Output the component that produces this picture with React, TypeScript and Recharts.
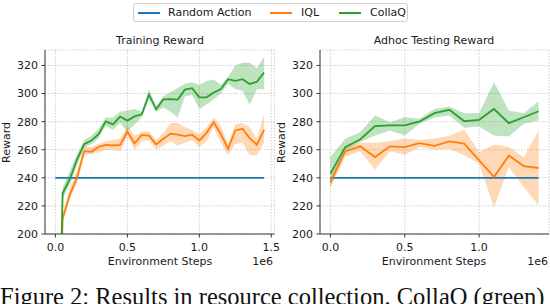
import React from 'react';
import { ComposedChart, Line, Area, XAxis, YAxis, CartesianGrid } from 'recharts';

const seriesNames = ['Random Action', 'IQL', 'CollaQ'];
const seriesColors = ['#1f77b4', '#ff7f0e', '#2ca02c'];
const randomReward = 240;
const rewardTicks = [200, 220, 240, 260, 280, 300, 320];
const trainStepTicks = [0, 0.5, 1.0, 1.5];
const adhocStepTicks = [0, 0.5, 1.0];

// Training Reward (steps in 1e6)
const trainSteps = [0, 0.05, 0.1, 0.15, 0.2, 0.25, 0.3, 0.35, 0.4, 0.45, 0.5, 0.55, 0.6, 0.65, 0.7, 0.75, 0.8, 0.85, 0.9, 0.95, 1.0, 1.05, 1.1, 1.15, 1.2, 1.25, 1.3, 1.35, 1.4, 1.45];
const trainIql = [0, 211, 228, 240, 259, 258.5, 262, 263.5, 263, 263.5, 273, 264.5, 270.5, 270, 263.8, 267.8, 271.4, 270.7, 269.7, 270.7, 266.6, 272, 279.6, 271, 260.7, 273.7, 274.9, 268.3, 263.6, 274.2];
const trainIqlLow = [0, 208, 225, 236, 256, 257, 258, 260, 260, 259, 270, 260, 266, 267, 260, 263, 266, 263, 265, 267, 262, 266, 276, 265, 256, 264, 265, 256, 256, 265];
const trainIqlHigh = [0, 214, 233, 245, 262, 262, 264, 266, 267, 268, 277, 270, 273, 273, 267, 272, 279, 279, 276, 274, 271, 276, 283, 277, 264, 278, 279, 276, 268, 285];
const trainCollaq = [0, 229, 239, 253, 264, 266.5, 271, 280.2, 278, 283.6, 280.7, 283.7, 285.2, 299.2, 288.8, 295.8, 296, 295.7, 302.8, 303.8, 297.3, 297.3, 300.8, 303.2, 310.2, 309, 310.2, 306.8, 308.4, 315];
const trainCollaqLow = [0, 225, 235, 249, 261, 264, 268, 277, 274, 279, 273, 278, 283, 296, 287, 290, 287, 283, 298, 299, 289, 292, 296, 300, 307, 303, 302, 292, 303, 303];
const trainCollaqHigh = [0, 233, 245, 257, 267, 270, 275, 283, 283, 287, 288, 289, 287, 303, 291, 298, 301, 304, 307, 308, 306, 309, 310, 306, 312, 320, 322, 322, 318, 326];

// Adhoc Testing Reward
const adhocSteps = [0, 0.1, 0.2, 0.3, 0.4, 0.5, 0.6, 0.7, 0.8, 0.9, 1.0, 1.1, 1.2, 1.3, 1.4];
const adhocIql = [237, 258.8, 262.4, 254.8, 262.4, 261.9, 264.7, 262.7, 265.9, 264.3, 252.4, 240.6, 255.8, 248.4, 247];
const adhocIqlLow = [233, 255, 259, 246, 259, 256.5, 262, 260, 260.5, 256, 250, 219, 247.7, 233.5, 220.5];
const adhocIqlHigh = [240, 262, 265, 265, 266, 268, 267, 268, 270, 274.2, 258.3, 263.8, 262, 254.4, 273.7];
const adhocCollaq = [243, 261.9, 267.3, 276.8, 277.3, 277.3, 280.1, 286, 288.4, 280.3, 281.3, 289, 278.9, 283.1, 287.4];
const adhocCollaqLow = [234, 259.5, 265.4, 270.2, 273.7, 270.2, 278.5, 283, 284.3, 275.6, 276.5, 270.2, 269.5, 278.5, 280.8];
const adhocCollaqHigh = [254.8, 267.8, 272.5, 284.3, 279.6, 283.1, 282, 289, 290.7, 286, 286, 308, 287.9, 286, 294.3];

const buildRows = (steps, iql, iqlLo, iqlHi, cq, cqLo, cqHi) =>
  steps.map((s, i) => ({
    step: s,
    random: randomReward,
    iql: iql[i],
    iqlBand: [iqlLo[i], iqlHi[i]],
    collaq: cq[i],
    collaqBand: [cqLo[i], cqHi[i]],
  }));

const trainData = buildRows(trainSteps, trainIql, trainIqlLow, trainIqlHigh, trainCollaq, trainCollaqLow, trainCollaqHigh);
const adhocData = buildRows(adhocSteps, adhocIql, adhocIqlLow, adhocIqlHigh, adhocCollaq, adhocCollaqLow, adhocCollaqHigh);

const FONT = '"DejaVu Sans", sans-serif';
const TXT = '#1a1a1a';
const SPINE = '#3a3a3a';
const tickStyle = { fontSize: 11, fill: TXT, fontFamily: FONT };

function Panel({ data, xDomain, xTicks, width, rightMargin }) {
  return (
    <ComposedChart width={width} height={270} data={data} margin={{ top: 50, right: rightMargin, bottom: 6, left: 0 }}>
      <CartesianGrid stroke="#c4c4c4" strokeDasharray="1.5 1.5" strokeWidth={0.8} />
      <XAxis dataKey="step" type="number" domain={xDomain} allowDataOverflow ticks={xTicks}
        tickFormatter={(v) => v.toFixed(1)} height={30} tick={tickStyle}
        stroke={SPINE} tickSize={3.5} tickMargin={5.4} />
      <XAxis xAxisId="top" orientation="top" type="number" domain={xDomain} allowDataOverflow
        height={0} tick={false} tickLine={false} stroke={SPINE} />
      <YAxis type="number" domain={[200, 331]} allowDataOverflow ticks={rewardTicks} width={45}
        tick={tickStyle} stroke={SPINE} tickSize={3.5} tickMargin={3.5} />
      <YAxis yAxisId="right" orientation="right" type="number" domain={[200, 331]} width={0}
        tick={false} tickLine={false} stroke={SPINE} />
      <Area dataKey="iqlBand" type="linear" stroke="none" fill={seriesColors[1]} fillOpacity={0.3} isAnimationActive={false} />
      <Area dataKey="collaqBand" type="linear" stroke="none" fill={seriesColors[2]} fillOpacity={0.3} isAnimationActive={false} />
      <Line dataKey="random" type="linear" stroke={seriesColors[0]} strokeWidth={1.8} dot={false} isAnimationActive={false} />
      <Line dataKey="iql" type="linear" stroke={seriesColors[1]} strokeWidth={1.8} dot={false} isAnimationActive={false} />
      <Line dataKey="collaq" type="linear" stroke={seriesColors[2]} strokeWidth={1.8} dot={false} isAnimationActive={false} />
    </ComposedChart>
  );
}

const abs = (s) => ({ position: 'absolute', fontFamily: FONT, fontSize: 11, lineHeight: '11px', color: TXT, whiteSpace: 'nowrap', ...s });

export default function App() {
  const legendPos = [
    { line: 4, text: 34 },
    { line: 136, text: 167 },
    { line: 205, text: 236 },
  ];
  return (
    <div style={{ position: 'fixed', left: 0, top: 0, width: 550, height: 304, overflow: 'hidden', background: '#fff' }}>
      <div style={{ position: 'absolute', left: 0, top: 0 }}>
        <Panel data={trainData} xDomain={[-0.0725, 1.5225]} xTicks={trainStepTicks} width={280} rightMargin={5.5} />
      </div>
      <div style={{ position: 'absolute', left: 275, top: 0 }}>
        <Panel data={adhocData} xDomain={[-0.07, 1.47]} xTicks={adhocStepTicks} width={275} rightMargin={1} />
      </div>

      {/* legend */}
      <div style={{ position: 'absolute', left: 133, top: 3, width: 273, height: 17, border: '1px solid #cfcfcf', borderRadius: 3, background: '#fff' }}>
        {seriesNames.map((n, i) => (
          <React.Fragment key={n}>
            <div style={{ position: 'absolute', left: legendPos[i].line, top: 7.5, width: 22, height: 2, background: seriesColors[i] }} />
            <div style={abs({ left: legendPos[i].text, top: 3 })}>{n}</div>
          </React.Fragment>
        ))}
      </div>

      {/* titles */}
      <div style={abs({ left: 60, width: 200, top: 34.7, textAlign: 'center' })}>Training Reward</div>
      <div style={abs({ left: 334, width: 200, top: 34.7, textAlign: 'center' })}>Adhoc Testing Reward</div>

      {/* axis labels */}
      <div style={abs({ left: 60, width: 200, top: 256, textAlign: 'center' })}>Environment Steps</div>
      <div style={abs({ left: 334, width: 200, top: 256, textAlign: 'center' })}>Environment Steps</div>
      <div style={abs({ left: 213, width: 60, top: 256, textAlign: 'right' })}>1e6</div>
      <div style={abs({ left: 488, width: 60, top: 256, textAlign: 'right' })}>1e6</div>
      <div style={abs({ left: 6 - 30, top: 142 - 5.5, width: 60, textAlign: 'center', transform: 'rotate(-90deg)' })}>Reward</div>
      <div style={abs({ left: 281 - 30, top: 142 - 5.5, width: 60, textAlign: 'center', transform: 'rotate(-90deg)' })}>Reward</div>

      {/* caption (cut off at the bottom, as in the source image) */}
      <div style={{ position: 'absolute', left: 0, top: 284.7, fontFamily: '"Liberation Serif", serif', fontSize: 24.5, lineHeight: '24.5px', color: '#111', whiteSpace: 'nowrap' }}>
        Figure 2: Results in resource collection. CollaQ (green)
      </div>
    </div>
  );
}
